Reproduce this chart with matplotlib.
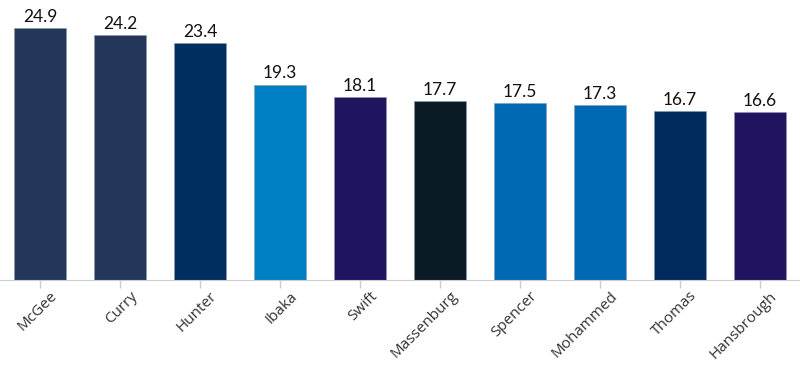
import matplotlib.pyplot as plt
from matplotlib.transforms import ScaledTranslation

names = ['McGee', 'Curry', 'Hunter', 'Ibaka', 'Swift', 'Massenburg',
         'Spencer', 'Mohammed', 'Thomas', 'Hansbrough']
values = [24.9, 24.2, 23.4, 19.3, 18.1, 17.7, 17.5, 17.3, 16.7, 16.6]
colors = ['#22375a', '#22375a', '#002f5f', '#0080c4', '#1f1460',
          '#0a1b25', '#0069b4', '#0069b4', '#002b5c', '#21135f']

fig = plt.figure(figsize=(8, 3.66), dpi=100)
ax = fig.add_axes([0, (366 - 280) / 366, 1, 280 / 366])

x = range(len(names))
ax.bar(x, values, width=0.64, color=colors, edgecolor='#8a9bb0', linewidth=0.4)

for xi, v in zip(x, values):
    ax.text(xi, v + 0.35, f'{v}', ha='center', va='bottom',
            fontsize=12.5, family='Lato', color='#111111')

ax.set_xlim(-0.5, 9.5)
ax.set_ylim(0, 27.7)
ax.set_yticks([])
ax.set_xticks(list(x))
ax.set_xticklabels(names, rotation=45, ha='right', va='center', rotation_mode='anchor',
                   family='Open Sans', fontsize=11, color='#333333')
ax.tick_params(axis='x', length=6, color='#cccccc', width=1, pad=4)
shift = ScaledTranslation(15 / 100, 0, fig.dpi_scale_trans)
for lab in ax.get_xticklabels():
    lab.set_transform(lab.get_transform() + shift)
for s in ['top', 'right', 'left']:
    ax.spines[s].set_visible(False)
ax.spines['bottom'].set_color('#cccccc')

fig.savefig('out.png', dpi=100)
